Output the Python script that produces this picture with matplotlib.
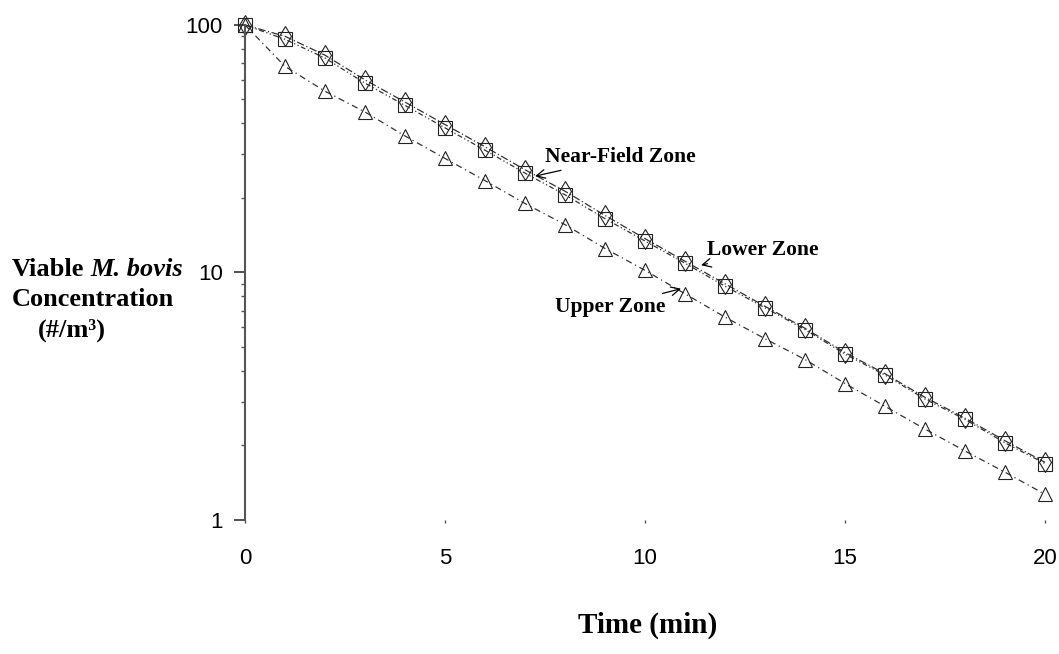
import matplotlib
matplotlib.use("Agg")
import matplotlib.pyplot as plt
from matplotlib.ticker import LogLocator, NullFormatter, FixedLocator

# === DADOS ===
tempo = list(range(0, 21))
near_field = [100, 90.0, 75.5, 60.0, 48.8, 39.6, 32.2, 26.0, 21.3, 17.0, 13.7,
              11.1, 9.0, 7.3, 5.95, 4.75, 3.9, 3.13, 2.58, 2.09, 1.71]
lower_zone = [100, 87.5, 73.5, 58.2, 47.3, 38.4, 31.2, 25.2, 20.6, 16.5, 13.4,
              10.9, 8.8, 7.2, 5.88, 4.68, 3.85, 3.08, 2.55, 2.05, 1.69]
upper_zone = [100, 68.0, 54.0, 44.5, 35.6, 28.9, 23.5, 19.0, 15.6, 12.5, 10.2,
              8.2, 6.6, 5.4, 4.45, 3.56, 2.88, 2.33, 1.9, 1.56, 1.27]
x_ticks = [0, 5, 10, 15, 20]
y_ticks = [1, 10, 100]

SERIF = ["Liberation Serif", "DejaVu Serif"]
SANS = ["Liberation Sans", "DejaVu Sans"]

fig = plt.figure(figsize=(10.59, 6.54), dpi=100)
ax = fig.add_axes([0.2314, 0.2049, 0.7554, 0.7569])

linhas = [
    (near_field, "d", (0, (6, 2, 1, 2))),
    (lower_zone, "s", (0, (4, 2, 1, 2, 1, 2))),
    (upper_zone, "^", (0, (5, 3, 1, 3))),
]
for valores, marcador, estilo in linhas:
    ax.plot(tempo, valores, color="#333333", lw=0.9, linestyle=estilo,
            marker=marcador, markersize=10, markerfacecolor="none",
            markeredgecolor="#222222", markeredgewidth=0.8, clip_on=False)

ax.set_yscale("log")
ax.set_xlim(0, 20)
ax.set_ylim(1, 100)

for lado in ["top", "right", "bottom"]:
    ax.spines[lado].set_visible(False)
ax.spines["left"].set_color("#555555")
ax.spines["left"].set_linewidth(1.5)

ax.xaxis.set_major_locator(FixedLocator(x_ticks))
ax.set_xticklabels([str(v) for v in x_ticks], fontfamily=SANS, fontsize=16)
ax.tick_params(axis="x", length=2, width=1, color="#555555", pad=18)

ax.yaxis.set_major_locator(FixedLocator(y_ticks))
ax.set_yticklabels([str(v) for v in y_ticks], fontfamily=SANS, fontsize=16)
ax.yaxis.set_minor_locator(LogLocator(base=10, subs=range(2, 10)))
ax.yaxis.set_minor_formatter(NullFormatter())
ax.tick_params(axis="y", which="major", length=8, width=1.2, color="#333333", pad=8)
ax.tick_params(axis="y", which="minor", length=3, width=1, color="#555555")

# rótulos do eixo Y (texto em três linhas)
fig.text(12 / 1059, 1 - 270 / 654, "Viable", fontfamily=SERIF, fontweight="bold",
         fontsize=19, ha="left", va="center")
fig.text(90 / 1059, 1 - 270 / 654, "M. bovis", fontfamily=SERIF, fontweight="bold",
         fontstyle="italic", fontsize=19, ha="left", va="center")
fig.text(12 / 1059, 1 - 300 / 654, "Concentration", fontfamily=SERIF, fontweight="bold",
         fontsize=19, ha="left", va="center")
fig.text(72 / 1059, 1 - 330 / 654, "(#/m\u00b3)", fontfamily=SERIF, fontweight="bold",
         fontsize=19, ha="center", va="center")

fig.text(648 / 1059, 1 - 625 / 654, "Time (min)", fontfamily=SERIF, fontweight="bold",
         fontsize=21, ha="center", va="center")

# anotações com setas
seta = dict(arrowstyle="->", color="black", lw=0.9, shrinkA=2, shrinkB=0)
ax.annotate("Near-Field Zone", xy=(7.25, 24.5), xytext=(7.5, 29.3),
            fontfamily=SERIF, fontweight="bold", fontsize=15.5, ha="left", va="center",
            arrowprops=seta)
ax.annotate("Lower Zone", xy=(11.4, 10.7), xytext=(11.55, 12.3),
            fontfamily=SERIF, fontweight="bold", fontsize=15.5, ha="left", va="center",
            arrowprops=seta)
ax.annotate("Upper Zone", xy=(10.9, 8.6), xytext=(10.5, 7.26),
            fontfamily=SERIF, fontweight="bold", fontsize=15.5, ha="right", va="center",
            arrowprops=seta)

fig.savefig("out.png", dpi=100)
